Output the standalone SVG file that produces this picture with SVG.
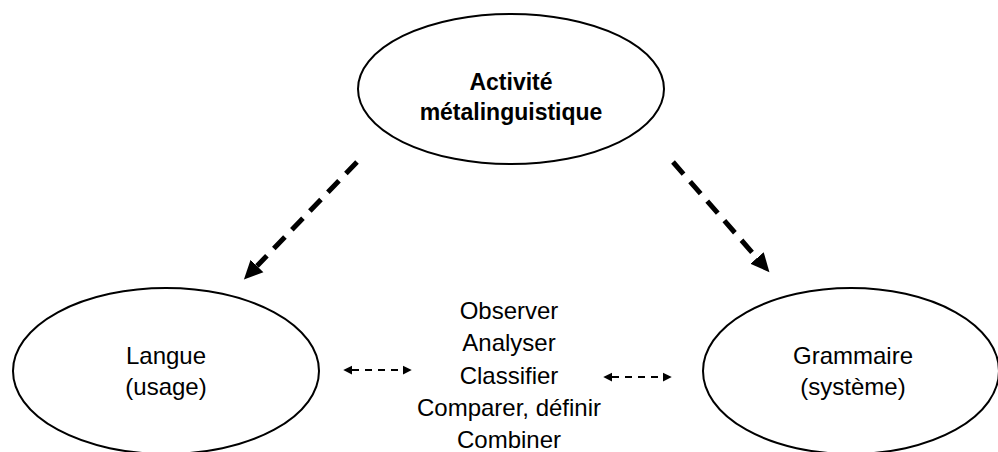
<svg xmlns="http://www.w3.org/2000/svg" width="998" height="452" viewBox="0 0 998 452">
  <style>
    .node { fill: #ffffff; stroke: #000000; stroke-width: 2; }
    .lbl { font-family: "Liberation Sans", Arial, sans-serif; font-size: 24px; fill: #000000; text-anchor: middle; }
    .bold { font-weight: bold; font-size: 23px; }
    .thick { stroke: #000000; stroke-width: 5; stroke-dasharray: 16 10; fill: none; }
    .thin { stroke: #000000; stroke-width: 2; stroke-dasharray: 7 6; fill: none; }
  </style>
  <defs>
    <marker id="bigHead" markerUnits="userSpaceOnUse" markerWidth="20" markerHeight="20" viewBox="0 -8 18 16" refX="0" refY="0" orient="auto">
      <path d="M0,-8 L17,0 L0,8 z" fill="#000000"/>
    </marker>
    <marker id="smallHead" markerUnits="userSpaceOnUse" markerWidth="10" markerHeight="10" viewBox="0 -4 8 8" refX="0" refY="0" orient="auto-start-reverse">
      <path d="M0,-3.5 L7,0 L0,3.5 z" fill="#000000"/>
    </marker>
  </defs>

  <g id="node-activite">
    <ellipse class="node" cx="511" cy="89" rx="153" ry="75"/>
    <text class="lbl bold" x="511" y="90">Activité</text>
    <text class="lbl bold" x="511" y="120">métalinguistique</text>
  </g>

  <g id="node-langue">
    <ellipse class="node" cx="166" cy="371" rx="153" ry="83"/>
    <text class="lbl" x="166" y="364">Langue</text>
    <text class="lbl" x="166" y="395">(usage)</text>
  </g>

  <g id="node-grammaire">
    <ellipse class="node" cx="851" cy="371" rx="148" ry="83"/>
    <text class="lbl" x="853" y="364">Grammaire</text>
    <text class="lbl" x="853" y="395">(système)</text>
  </g>

  <g id="node-operations">
    <text class="lbl" x="509" y="319">Observer</text>
    <text class="lbl" x="509" y="351">Analyser</text>
    <text class="lbl" x="509" y="384">Classifier</text>
    <text class="lbl" x="509" y="416">Comparer, définir</text>
    <text class="lbl" x="509" y="448">Combiner</text>
  </g>

  <g id="connectors">
    <line class="thick" x1="357" y1="162" x2="257" y2="266" marker-end="url(#bigHead)"/>
    <line class="thick" x1="673" y1="162" x2="757" y2="258" marker-end="url(#bigHead)"/>
    <line class="thin" x1="352" y1="370" x2="403" y2="370" marker-start="url(#smallHead)" marker-end="url(#smallHead)"/>
    <line class="thin" x1="612" y1="377" x2="663" y2="377" marker-start="url(#smallHead)" marker-end="url(#smallHead)"/>
  </g>
</svg>
